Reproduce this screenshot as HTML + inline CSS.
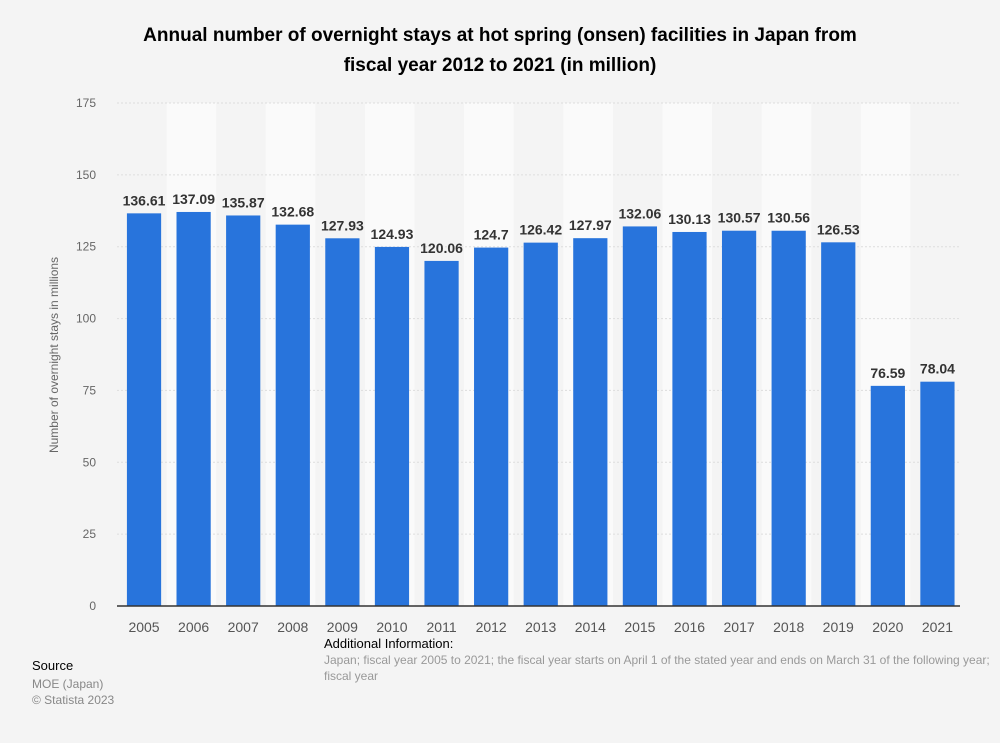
<!DOCTYPE html>
<html><head><meta charset="utf-8"><style>
body{margin:0;background:#f4f4f4;font-family:"Liberation Sans",Arial,sans-serif;}
#wrap{position:relative;width:1000px;height:743px;overflow:hidden;background:#f4f4f4}
</style></head><body>
<div id="wrap">
<svg id="chart" width="1000" height="743">
<text x="500" y="41" text-anchor="middle" font-size="19" font-weight="bold" fill="#000">Annual number of overnight stays at hot spring (onsen) facilities in Japan from</text>
<text x="500" y="71" text-anchor="middle" font-size="19" font-weight="bold" fill="#000">fiscal year 2012 to 2021 (in million)</text>
<g id="bands"></g><g id="grid"></g><g id="bars"></g><g id="labels"></g><g id="xt"></g><g id="yt"></g>
<line x1="117" x2="960" y1="606" y2="606" stroke="#333" stroke-width="1.5"/>
<text transform="translate(58,355) rotate(-90)" text-anchor="middle" font-size="12" fill="#666">Number of overnight stays in millions</text>
<text x="32" y="670" font-size="13" fill="#000">Source</text>
<text x="32" y="688" font-size="12" fill="#888">MOE (Japan)</text>
<text x="32" y="704" font-size="12" fill="#888">© Statista 2023</text>
<text x="324" y="648" font-size="13" fill="#000">Additional Information:</text>
<text x="324" y="664" font-size="12" fill="#999">Japan; fiscal year 2005 to 2021; the fiscal year starts on April 1 of the stated year and ends on March 31 of the following year;</text>
<text x="324" y="680" font-size="12" fill="#999">fiscal year</text>
</svg>
</div>
<script>
const categories=["2005","2006","2007","2008","2009","2010","2011","2012","2013","2014","2015","2016","2017","2018","2019","2020","2021"];
const values=[136.61,137.09,135.87,132.68,127.93,124.93,120.06,124.7,126.42,127.97,132.06,130.13,130.57,130.56,126.53,76.59,78.04];
const valueLabels=["136.61","137.09","135.87","132.68","127.93","124.93","120.06","124.7","126.42","127.97","132.06","130.13","130.57","130.56","126.53","76.59","78.04"];
const yTicks=[0,25,50,75,100,125,150,175];
const NS="http://www.w3.org/2000/svg";
const L=117,R=960,T=103,B=606,YMAX=175;
const bw=(R-L)/categories.length;
const y=v=>B-(v/YMAX)*(B-T);
const x=i=>L+i*bw;
function mk(tag,attrs,parent,txt){const e=document.createElementNS(NS,tag);for(const k in attrs)e.setAttribute(k,attrs[k]);if(txt!==undefined)e.textContent=txt;document.getElementById(parent).appendChild(e);return e;}
categories.forEach((c,i)=>{
 if(i%2===1){const b=mk('rect',{x:x(i),y:T,width:bw,height:B-T,fill:'#fafafa'},'bands');
 
 }
});
yTicks.forEach(t=>{
 if(t>0){const g=mk('line',{x1:L,x2:R,y1:y(t),y2:y(t),stroke:'#ddd','stroke-dasharray':'2,2'},'grid');
 
 }
 const tx=mk('text',{x:96,y:y(t)+4,'text-anchor':'end','font-size':12,fill:'#666'},'yt',String(t));
 
 
});
categories.forEach((c,i)=>{
 const bx=x(i)+bw*0.2, w=bw*0.69;
 const r=mk('rect',{x:bx,y:y(values[i]),width:w,height:B-y(values[i]),fill:'#2874dc'},'bars');
 
 
 const lb=mk('text',{x:bx+w/2,y:y(values[i])-8,'text-anchor':'middle','font-size':14,'font-weight':'bold',fill:'#333'},'labels',valueLabels[i]);
 
 
 const xt=mk('text',{x:bx+w/2,y:632,'text-anchor':'middle','font-size':14,fill:'#555'},'xt',c);
 
 
});
</script>
</body></html>
